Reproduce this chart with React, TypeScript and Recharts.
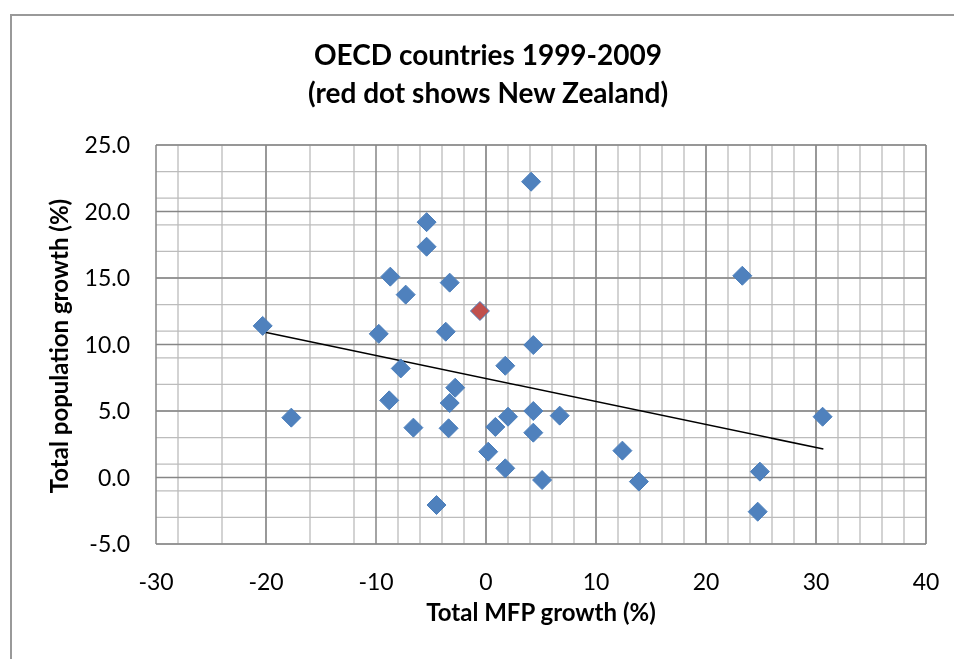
import React from 'react'
import {
  ScatterChart,
  Scatter,
  XAxis,
  YAxis,
  CartesianGrid,
} from 'recharts'

// Total MFP growth (%) and total population growth (%), 1999-2009, one entry per OECD country
const mfpGrowth = [
  -20.3, -17.7, -9.75, -8.7, -8.8, -7.75, -7.3, -6.6, -5.4, -5.4, -4.5,
  -3.66, -3.3, -3.3, -3.4, -2.8, 0.2, 0.85, 1.75, 1.75, 2.0, 4.1, 4.3,
  4.3, 4.3, 5.1, 6.7, 12.4, 13.9, 23.3, 24.9, 24.7, 30.6,
]
const popGrowth = [
  11.4, 4.5, 10.8, 15.1, 5.8, 8.2, 13.75, 3.75, 19.2, 17.35, -2.07,
  10.96, 14.65, 5.6, 3.7, 6.75, 1.94, 3.8, 0.69, 8.4, 4.57, 22.24, 9.96,
  5.0, 3.37, -0.19, 4.65, 2.02, -0.31, 15.17, 0.44, -2.57, 4.57,
]

// New Zealand (red dot)
const nzMfp = [-0.55]
const nzPop = [12.52]

// linear trend line end points
const trendMfp = [-20.3, 30.67]
const trendPop = [10.96, 2.14]

const xTicks = [-30, -20, -10, 0, 10, 20, 30, 40]
const yTicks = [-5, 0, 5, 10, 15, 20, 25]
const xMinor = Array.from({ length: 36 }, (_, i) => -30 + i * 2)
const yMinor = Array.from({ length: 31 }, (_, i) => -5 + i)

const others = mfpGrowth.map((x, i) => ({ x, y: popGrowth[i] }))
const nz = nzMfp.map((x, i) => ({ x, y: nzPop[i] }))
const trend = trendMfp.map((x, i) => ({ x, y: trendPop[i] }))

const FONT = 'Lato, "Open Sans", sans-serif'

const diamond = (fill: string) => (props: any) => {
  const { cx, cy } = props
  const r = 9.5
  return (
    <polygon
      points={`${cx},${cy - r} ${cx + r},${cy} ${cx},${cy + r} ${cx - r},${cy}`}
      fill={fill}
      stroke="#4a7ebb"
      strokeWidth={1}
    />
  )
}

const App: React.FC = () => {
  return (
    <div style={{ position: 'relative', width: 938, height: 643, fontFamily: FONT }}>
      <div
        style={{
          position: 'fixed',
          left: 10,
          top: 14,
          width: 2000,
          height: 2000,
          borderLeft: '2px solid #999',
          borderTop: '2px solid #999',
          boxSizing: 'border-box',
        }}
      />
      <div
        style={{
          position: 'absolute',
          left: 230,
          top: 27,
          width: 500,
          textAlign: 'center',
          fontSize: 28,
          fontWeight: 'bold',
          lineHeight: '38px',
          color: '#000',
        }}
      >
        OECD countries 1999-2009
        <br />
        (red dot shows New Zealand)
      </div>
      <ScatterChart
        width={938}
        height={643}
        margin={{ top: 137, right: 20, left: 0, bottom: 27 }}
        style={{ position: 'absolute', left: 0, top: 0 }}
      >
        <CartesianGrid
          stroke="#bcbcbc"
          strokeWidth={1.3}
          verticalValues={xMinor}
          horizontalValues={yMinor}
        />
        <CartesianGrid
          stroke="#868686"
          strokeWidth={1.5}
          verticalValues={xTicks}
          horizontalValues={yTicks}
        />
        <XAxis
          type="number"
          dataKey="x"
          domain={[-30, 40]}
          ticks={xTicks}
          height={80}
          axisLine={false}
          tickLine={false}
          tickSize={0}
          tickMargin={30}
          tick={{ fontSize: 23, fill: '#000', fontFamily: FONT }}
          label={{
            value: 'Total MFP growth (%)',
            position: 'insideBottom',
            offset: 3,
            style: { fontSize: 24, fontWeight: 'bold', fill: '#000', fontFamily: FONT },
          }}
        />
        <YAxis
          type="number"
          dataKey="y"
          domain={[-5, 25]}
          ticks={yTicks}
          width={148}
          axisLine={false}
          tickLine={false}
          tickSize={0}
          tickMargin={26}
          tickFormatter={tick => (typeof tick === 'number' ? tick.toFixed(1) : tick)}
          tick={{ fontSize: 23, fill: '#000', fontFamily: FONT }}
        />
        <Scatter
          data={trend}
          line={{ stroke: '#000', strokeWidth: 1.5 }}
          shape={() => <g />}
          isAnimationActive={false}
        />
        <Scatter data={others} shape={diamond('#4f81bd')} isAnimationActive={false} />
        <Scatter data={nz} shape={diamond('#c0504d')} isAnimationActive={false} />
      </ScatterChart>
      <div
        style={{
          position: 'absolute',
          left: 51 - 200,
          top: 338 - 15,
          width: 400,
          height: 30,
          lineHeight: '30px',
          textAlign: 'center',
          fontSize: 24,
          fontWeight: 'bold',
          color: '#000',
          transform: 'rotate(-90deg)',
          whiteSpace: 'nowrap',
        }}
      >
        Total population growth (%)
      </div>
    </div>
  )
}

export default App
